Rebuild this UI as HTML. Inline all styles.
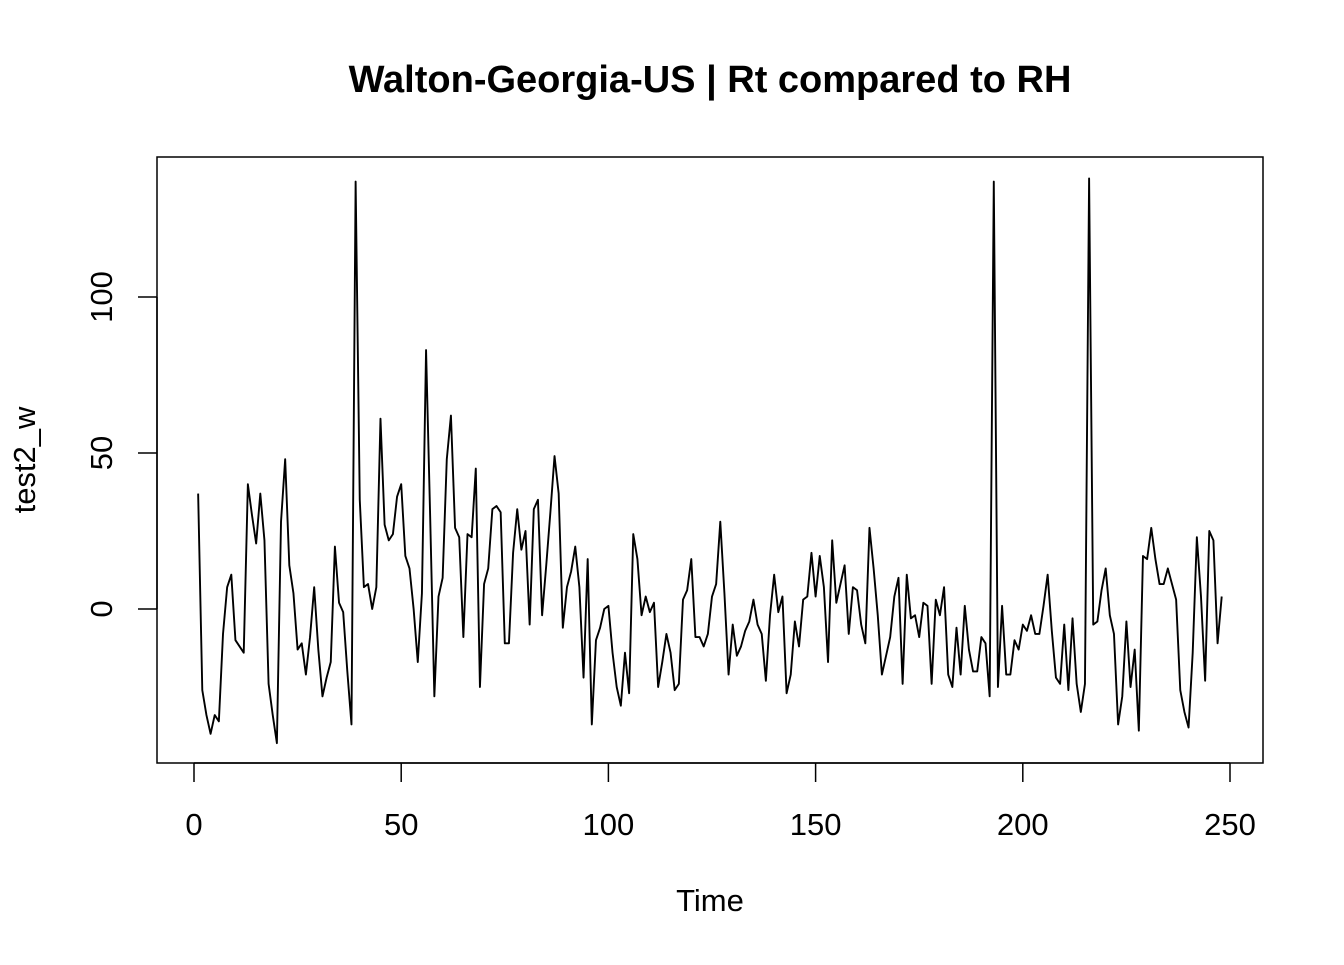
<!DOCTYPE html>
<html><head><meta charset="utf-8"><style>
body{margin:0;background:#fff}
svg text{font-family:"Liberation Sans",Arial,sans-serif;fill:#000}
</style></head><body>
<svg id="chart" width="1344" height="960" xmlns="http://www.w3.org/2000/svg">
<rect width="1344" height="960" fill="#fff"/>
<text x="710" y="92" font-size="38" font-weight="bold" text-anchor="middle" style="font-size:38px">Walton-Georgia-US | Rt compared to RH</text>
<rect x="157" y="157" width="1106" height="606" fill="none" stroke="#000" stroke-width="1.5"/>
<g id="xaxis"></g>
<g id="yaxis"></g>
<text x="710" y="911" font-size="31" text-anchor="middle">Time</text>
<text transform="translate(35,460) rotate(-90)" font-size="31" text-anchor="middle">test2_w</text>
<path id="series" fill="none" stroke="#000" stroke-width="1.9" stroke-linejoin="round"/>
</svg>
<script>
const values = [37,-26,-34,-40,-34,-36,-8,7,11,-10,-12,-14,40,30,21,37,22,-24,-34,-43,28,48,14,5,-13,-11,-21,-9,7,-13,
-28,-22,-17,20,2,-1,-20,-37,137,35,7,8,0,7,61,27,22,24,36,40,
17,13,0,-17,5,83,29,-28,4,10,48,62,26,23,-9,24,23,45,-25,8,
13,32,33,31,-11,-11,18,32,19,25,-5,32,35,-2,14,31,49,37,-6,7,
12,20,7,-22,16,-37,-10,-6,0,1,-14,-25,-31,-14,-27,24,16,-2,4,-1,
2,-25,-17,-8,-14,-26,-24,3,6,16,-9,-9,-12,-8,4,8,28,5,-21,-5,
-15,-12,-7,-4,3,-5,-8,-23,-2,11,-1,4,-27,-21,-4,-12,3,4,18,4,
17,7,-17,22,2,8,14,-8,7,6,-5,-11,26,13,-2,-21,-15,-9,4,10,
-24,11,-3,-2,-9,2,1,-24,3,-2,7,-21,-25,-6,-21,1,-13,-20,-20,-9,
-11,-28,137,-25,1,-21,-21,-10,-13,-5,-7,-2,-8,-8,1,11,-7,-22,-24,-5,
-26,-3,-24,-33,-24,138,-5,-4,6,13,-2,-8,-37,-28,-4,-25,-13,-39,17,16,
26,16,8,8,13,8,3,-26,-33,-38,-14,23,4,-23,25,22,-11,4];
const xTicks = [0,50,100,150,200,250];
const yTicks = [0,50,100];
const NS="http://www.w3.org/2000/svg";
const xs = t => 194 + (t/250)*(1230-194);
const ys = v => 609 - v*3.12;
const svg=document.getElementById('chart');
let d='';
values.forEach((v,i)=>{d+=(i?'L':'M')+xs(i+1).toFixed(2)+' '+ys(v).toFixed(2);});
document.getElementById('series').setAttribute('d',d);
const xa=document.getElementById('xaxis');
const xl=document.createElementNS(NS,'line');
xl.setAttribute('x1',xs(0));xl.setAttribute('x2',xs(250));xl.setAttribute('y1',763);xl.setAttribute('y2',763);xl.setAttribute('stroke','#000');xl.setAttribute('stroke-width','1.5');


xa.appendChild(xl);
xTicks.forEach(t=>{
 const l=document.createElementNS(NS,'line');
 l.setAttribute('x1',xs(t));l.setAttribute('x2',xs(t));l.setAttribute('y1',763);l.setAttribute('y2',782);l.setAttribute('stroke','#000');l.setAttribute('stroke-width','1.5');
 
 
 xa.appendChild(l);
 const tx=document.createElementNS(NS,'text');
 tx.setAttribute('x',xs(t));tx.setAttribute('y',835);tx.setAttribute('font-size','31');tx.setAttribute('text-anchor','middle');
 tx.textContent=t;
 
 
 xa.appendChild(tx);
});
const ya=document.getElementById('yaxis');
const yl=document.createElementNS(NS,'line');
yl.setAttribute('x1',157);yl.setAttribute('x2',157);yl.setAttribute('y1',ys(0));yl.setAttribute('y2',ys(100));yl.setAttribute('stroke','#000');yl.setAttribute('stroke-width','1.5');


ya.appendChild(yl);
yTicks.forEach(v=>{
 const l=document.createElementNS(NS,'line');
 l.setAttribute('x1',138);l.setAttribute('x2',157);l.setAttribute('y1',ys(v));l.setAttribute('y2',ys(v));l.setAttribute('stroke','#000');l.setAttribute('stroke-width','1.5');
 
 
 ya.appendChild(l);
 const tx=document.createElementNS(NS,'text');
 tx.setAttribute('transform','translate(112,'+ys(v)+') rotate(-90)');tx.setAttribute('font-size','31');tx.setAttribute('text-anchor','middle');
 tx.textContent=v;
 
 
 ya.appendChild(tx);
});
</script>
</body></html>
